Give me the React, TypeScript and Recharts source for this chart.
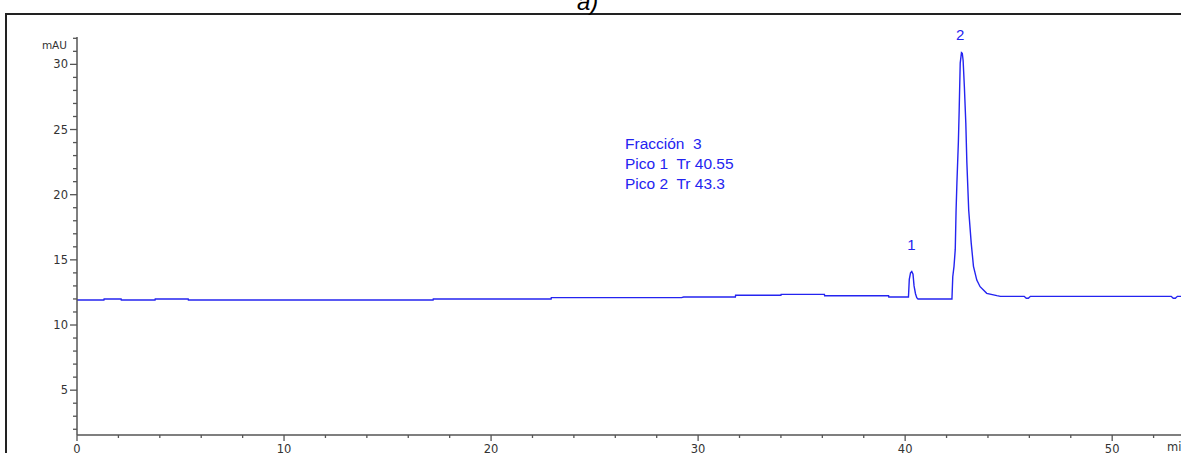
import React from "react";
import { LineChart, Line, XAxis, YAxis, ReferenceDot } from "recharts";

// Retention time (min) and absorbance (mAU)
const times: number[] = [
  0, 1.3, 1.31, 2.13, 2.14, 3.77, 3.78, 5.37, 5.38, 17.2, 17.21, 22.9, 22.91, 29.2, 29.3,
  31.8, 31.81, 34.0, 34.01, 36.1, 36.11, 39.2, 39.21,
  40.16, 40.2, 40.26, 40.32, 40.38, 40.43, 40.5, 40.56, 40.62,
  42.26, 42.3, 42.36, 42.42, 42.46, 42.5, 42.57, 42.61, 42.66, 42.72, 42.76, 42.8, 42.86,
  42.93, 42.98, 43.07, 43.19, 43.3, 43.46, 43.62, 43.94, 44.43, 44.6,
  45.75, 45.85, 45.95, 46.05, 52.85, 52.95, 53.05, 53.15, 54,
];
const absorbance: number[] = [
  11.92, 11.92, 12.0, 12.0, 11.92, 11.92, 12.0, 12.0, 11.92, 11.92, 12.0, 12.0, 12.1, 12.1, 12.15,
  12.15, 12.28, 12.28, 12.35, 12.35, 12.25, 12.25, 12.15,
  12.15, 13.5, 14.0, 14.1, 13.9, 13.0, 12.4, 12.1, 12.0,
  12.0, 13.7, 14.5, 15.8, 18.8, 20.9, 24.0, 26.5, 30.1, 30.9, 30.85, 30.3, 28.3,
  25.5, 22.5, 18.8, 16.3, 14.5, 13.45, 12.94, 12.43, 12.25, 12.2,
  12.2, 12.05, 12.05, 12.2, 12.2, 12.05, 12.05, 12.2, 12.2,
];

const yTicks: number[] = [2, 3, 4, 5, 6, 7, 8, 9, 10, 11, 12, 13, 14, 15, 16, 17, 18, 19, 20, 21, 22, 23, 24, 25, 26, 27, 28, 29, 30, 31, 32];
const xTicks: number[] = [0, 2, 4, 6, 8, 10, 12, 14, 16, 18, 20, 22, 24, 26, 28, 30, 32, 34, 36, 38, 40, 42, 44, 46, 48, 50, 52];

const peakLabels = [
  { name: "1", t: 40.3, v: 16.2 },
  { name: "2", t: 42.66, v: 32.3 },
];
const noteLines: string[] = ["Fracción  3", "Pico 1  Tr 40.55", "Pico 2  Tr 43.3"];

const data = times.map((t, i) => ({ t, v: absorbance[i] }));

const AXIS = "#555";
const BLUE = "#2424f0";
const TICK_FONT = '"DejaVu Sans", Verdana, sans-serif';

function YTick(props: any) {
  const { x, y, payload } = props;
  const v = payload.value;
  const major = v % 5 === 0;
  return (
    <g>
      <line x1={x} x2={x - (major ? 7 : 4)} y1={y} y2={y} stroke={AXIS} strokeWidth={1.3} />
      {major && (
        <text x={x - 9} y={y} dy={4} textAnchor="end" fontSize={11.5} fill="#333" fontFamily={TICK_FONT}>
          {v}
        </text>
      )}
      {v === 32 && (
        <text x={x - 10} y={y + 7} dy={4} textAnchor="end" fontSize={10.5} fill="#333" fontFamily={TICK_FONT}>
          mAU
        </text>
      )}
    </g>
  );
}

function XTick(props: any) {
  const { x, y, payload } = props;
  const v = payload.value;
  const major = v % 10 === 0;
  return (
    <g>
      <line x1={x} x2={x} y1={y} y2={y + (major ? 6 : 3)} stroke={AXIS} strokeWidth={1.3} />
      {major && (
        <text x={x} y={y + 18} textAnchor="middle" fontSize={11.5} fill="#333" fontFamily={TICK_FONT}>
          {v}
        </text>
      )}
    </g>
  );
}

export default function App() {
  return (
    <div
      style={{
        position: "absolute",
        left: 0,
        top: 0,
        width: 1181,
        height: 453,
        overflow: "hidden",
        background: "#fff",
        fontFamily: 'Arial, "Liberation Sans", sans-serif',
      }}
    >
      <div
        style={{
          position: "absolute",
          left: 5,
          top: 13,
          width: 1300,
          height: 600,
          borderTop: "2px solid #222",
          borderLeft: "2px solid #222",
        }}
      />
      <div
        style={{
          position: "absolute",
          left: 577,
          top: -10,
          fontSize: 24,
          lineHeight: "24px",
          fontStyle: "italic",
          color: "#000",
        }}
      >
        a)
      </div>
      <div style={{ position: "absolute", left: 0, top: 0 }}>
        <LineChart width={1195} height={453} data={data} margin={{ top: 37, right: 0, bottom: 0, left: 0 }}>
          <XAxis
            dataKey="t"
            type="number"
            domain={[0, 54]}
            ticks={xTicks}
            interval={0}
            height={18}
            tickSize={0}
            tickMargin={0}
            tickLine={false}
            axisLine={{ stroke: AXIS, strokeWidth: 1.5 }}
            tick={<XTick />}
            allowDataOverflow
          />
          <YAxis
            type="number"
            domain={[1.56, 32.1]}
            ticks={yTicks}
            interval={0}
            width={77}
            tickSize={0}
            tickMargin={0}
            tickLine={false}
            axisLine={{ stroke: AXIS, strokeWidth: 1.5 }}
            tick={<YTick />}
            allowDataOverflow
          />
          <Line
            type="linear"
            dataKey="v"
            stroke={BLUE}
            strokeWidth={1.4}
            dot={false}
            isAnimationActive={false}
          />
          {peakLabels.map((p) => (
            <ReferenceDot
              key={p.name}
              x={p.t}
              y={p.v}
              r={0}
              fill="none"
              stroke="none"
              ifOverflow="visible"
              label={{ value: p.name, position: "center", fill: BLUE, fontSize: 15 }}
            />
          ))}
        </LineChart>
      </div>
      <div
        style={{
          position: "absolute",
          left: 625,
          top: 134,
          fontSize: 15.5,
          lineHeight: "20px",
          color: BLUE,
          whiteSpace: "pre",
        }}
      >
        {noteLines.map((l) => (
          <div key={l}>{l}</div>
        ))}
      </div>
      <div
        style={{
          position: "absolute",
          left: 1167,
          top: 440,
          fontSize: 11.5,
          fontFamily: TICK_FONT,
          color: "#333",
          whiteSpace: "pre",
        }}
      >
        min
      </div>
    </div>
  );
}
